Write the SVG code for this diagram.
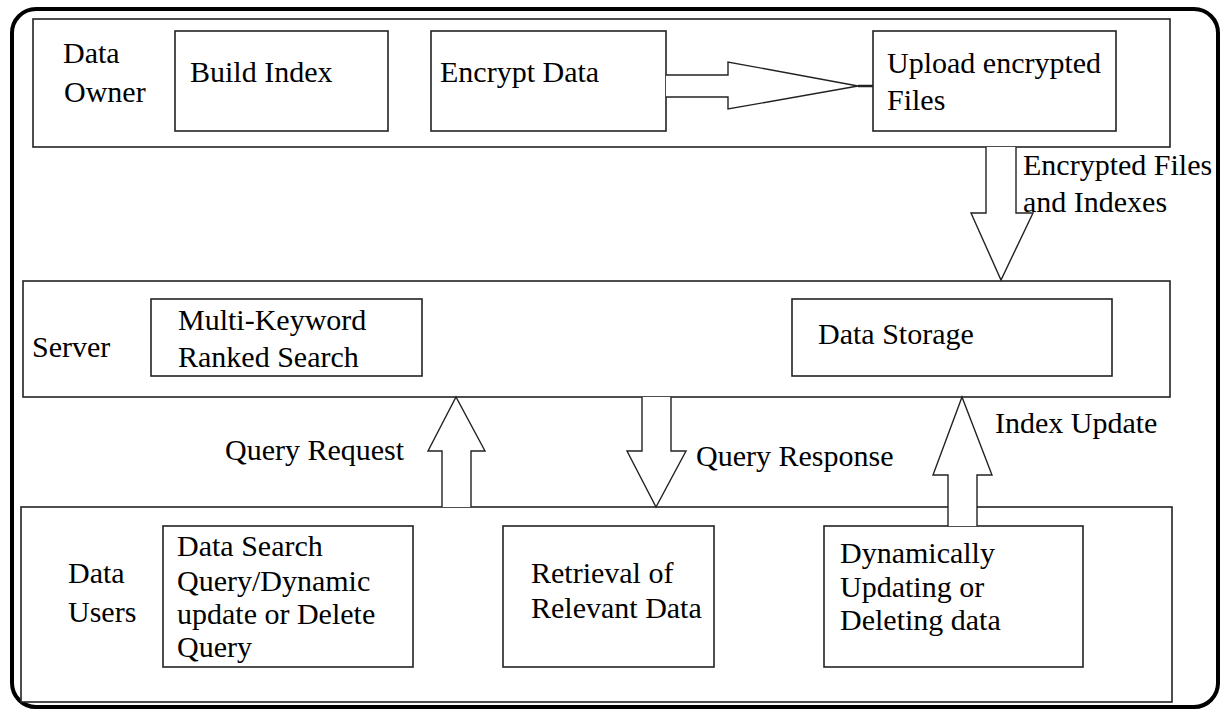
<svg xmlns="http://www.w3.org/2000/svg" width="1221" height="711" viewBox="0 0 1221 711">
<style>
.box{fill:#fff;stroke:#222;stroke-width:1.6}
.frame{fill:#fff;stroke:#000;stroke-width:4}
.arr{fill:#fff;stroke:#222;stroke-width:1.4;stroke-linejoin:miter}
text{font-family:"Liberation Serif","Times New Roman",serif;font-size:30px;fill:#000}
</style>
<rect width="1221" height="711" fill="#fff"/>
<rect class="frame" x="12" y="9" width="1206" height="698" rx="24" ry="24"/>

<g id="data-owner">
<rect class="box" x="33" y="19" width="1137" height="128"/>
<text x="63" y="63">Data</text>
<text x="64" y="102">Owner</text>
</g>
<g id="build-index">
<rect class="box" x="175" y="31" width="213" height="100"/>
<text x="190" y="82">Build Index</text>
</g>
<g id="encrypt-data">
<rect class="box" x="431" y="31" width="235" height="100"/>
<text x="440" y="82">Encrypt Data</text>
</g>
<g id="upload-files">
<rect class="box" x="873" y="31" width="243" height="100"/>
<text x="887" y="73">Upload encrypted</text>
<text x="887" y="110">Files</text>
</g>

<g id="server">
<rect class="box" x="23" y="281" width="1147" height="116"/>
<text x="32" y="357">Server</text>
</g>
<g id="multi-keyword">
<rect class="box" x="151" y="299" width="271" height="77"/>
<text x="178" y="330">Multi-Keyword</text>
<text x="178" y="367">Ranked Search</text>
</g>
<g id="data-storage">
<rect class="box" x="792" y="299" width="320" height="77"/>
<text x="818" y="344">Data Storage</text>
</g>

<g id="data-users">
<rect class="box" x="21" y="507" width="1151" height="195"/>
<text x="68" y="583">Data</text>
<text x="68" y="622">Users</text>
</g>
<g id="data-search">
<rect class="box" x="163" y="526" width="250" height="141"/>
<text x="177" y="556">Data Search</text>
<text x="177" y="591">Query/Dynamic</text>
<text x="177" y="624">update or Delete</text>
<text x="177" y="657">Query</text>
</g>
<g id="retrieval">
<rect class="box" x="503" y="526" width="211" height="141"/>
<text x="531" y="583">Retrieval of</text>
<text x="531" y="618">Relevant Data</text>
</g>
<g id="dynamic-update">
<rect class="box" x="824" y="526" width="259" height="141"/>
<text x="840" y="563">Dynamically</text>
<text x="840" y="597">Updating or</text>
<text x="840" y="630">Deleting data</text>
</g>

<g id="connectors">
<path class="arr" d="M666,75 H728 V62 L858,86 L728,109 V97 H666"/>
<line x1="858" y1="86" x2="873" y2="86" stroke="#222" stroke-width="2.5"/>
<path class="arr" d="M986,147 V213 H971 L1001,280 L1033,213 H1016 V147"/>
<path class="arr" d="M442,507 V451 H428 L456,397 L485,451 H471 V507"/>
<path class="arr" d="M642,397 V451 H627 L656,507 L686,451 H671 V397"/>
<path class="arr" d="M948,526 V475 H933 L962,397 L992,475 H977 V526"/>
<text x="1023" y="175">Encrypted Files</text>
<text x="1023" y="212">and Indexes</text>
<text x="225" y="460">Query Request</text>
<text x="696" y="466">Query Response</text>
<text x="995" y="433">Index Update</text>
</g>
</svg>
